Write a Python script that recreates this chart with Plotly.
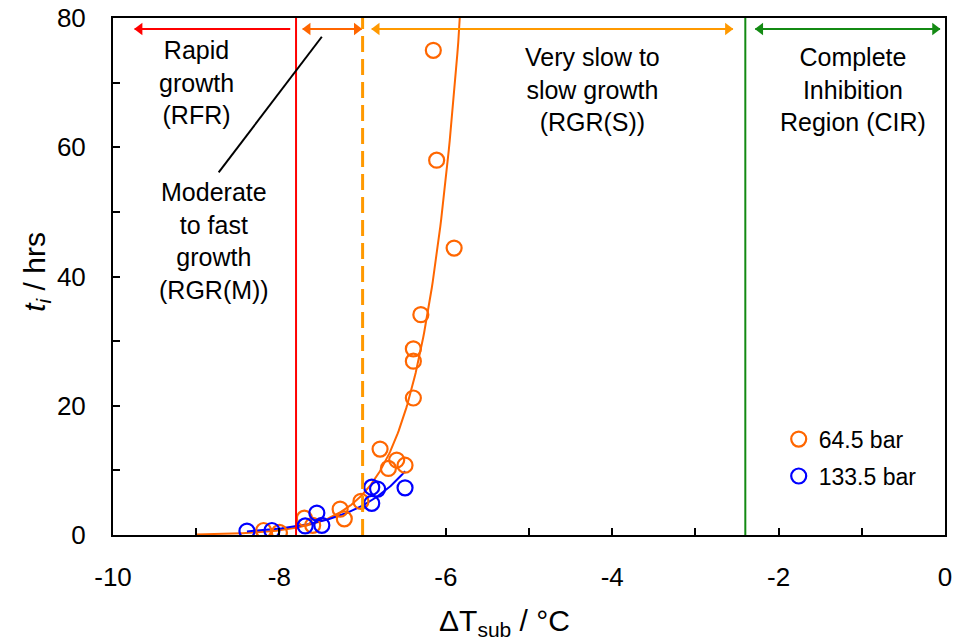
import numpy as np
import plotly.graph_objects as go

# ---- data ----
x_645 = [-8.19, -8.00, -7.70, -7.60, -7.27, -7.22, -7.02, -6.79, -6.69, -6.59, -6.49,
         -6.39, -6.39, -6.39, -6.30, -6.15, -6.11, -5.90]
y_645 = [0.7, 0.4, 2.6, 1.5, 4.0, 2.5, 5.2, 13.3, 10.3, 11.6, 10.8,
         21.2, 26.9, 28.8, 34.1, 75.0, 58.0, 44.4]

x_1335 = [-8.39, -8.09, -7.69, -7.55, -7.49, -6.89, -6.82, -6.89, -6.49]
y_1335 = [0.6, 0.7, 1.4, 3.4, 1.5, 7.4, 7.1, 4.9, 7.3]

series_names = ["64.5 bar", "133.5 bar"]

# trendline extents (Excel-style exponential trendlines)
trend_645_range = [-9.0, -5.6]
trend_1335_range = [min(x_1335), max(x_1335)]

# region boundaries
boundaries = [-7.8, -7.0, -2.4]

x_ticks = [-10, -8, -6, -4, -2, 0]
y_ticks = [0, 20, 40, 60, 80]

ORANGE = "#FF6600"
BLUE = "#0000FF"
RED = "#FF0000"
AMBER = "#FF9900"
GREEN = "#138A13"
FONT = "Liberation Sans, Arial, sans-serif"


def exp_fit(xs, ys):
    b, lna = np.polyfit(np.array(xs), np.log(np.array(ys)), 1)
    return np.exp(lna), b


a1, b1 = exp_fit(x_645, y_645)
a2, b2 = exp_fit(x_1335, y_1335)
xt1 = np.linspace(trend_645_range[0], trend_645_range[1], 300)
xt2 = np.linspace(trend_1335_range[0], trend_1335_range[1], 100)

fig = go.Figure()

fig.add_trace(go.Scatter(x=xt1, y=a1 * np.exp(b1 * xt1), mode="lines",
                         line=dict(color=ORANGE, width=2), showlegend=False,
                         hoverinfo="skip"))
fig.add_trace(go.Scatter(x=xt2, y=a2 * np.exp(b2 * xt2), mode="lines",
                         line=dict(color=BLUE, width=2), showlegend=False,
                         hoverinfo="skip"))
fig.add_trace(go.Scatter(x=x_645, y=y_645, mode="markers", name=series_names[0],
                         legendgroup="a",
                         marker=dict(symbol="circle-open", size=15, color=ORANGE,
                                     line=dict(width=2.2, color=ORANGE))))
fig.add_trace(go.Scatter(x=x_1335, y=y_1335, mode="markers", name=series_names[1],
                         legendgroup="b",
                         marker=dict(symbol="circle-open", size=15, color=BLUE,
                                     line=dict(width=2.2, color=BLUE))))

# vertical region boundaries
fig.add_shape(type="line", x0=boundaries[0], x1=boundaries[0], y0=0, y1=80,
              line=dict(color=RED, width=2))
fig.add_shape(type="line", x0=boundaries[1], x1=boundaries[1], y0=0, y1=80,
              line=dict(color=AMBER, width=3, dash="16px,7px"))
fig.add_shape(type="line", x0=boundaries[2], x1=boundaries[2], y0=0, y1=80,
              line=dict(color=GREEN, width=2))

# leader line
fig.add_shape(type="line", x0=-7.49, y0=77.1, x1=-8.73, y1=56.1,
              line=dict(color="black", width=2))

# arrows along the top: (left end, right end, colour, head at left, head at right)
arrow_y = 78.3
arrows = [
    (-9.74, -7.87, RED, True, False),
    (-7.72, -7.01, ORANGE, True, True),
    (-6.89, -2.55, AMBER, True, True),
    (-2.28, -0.06, GREEN, True, True),
]
head = 0.06  # half arrow-head length in data units
for xl, xr, col, hl, hr in arrows:
    fig.add_trace(go.Scatter(x=[xl, xr], y=[arrow_y, arrow_y], mode="lines",
                             line=dict(color=col, width=2), showlegend=False,
                             hoverinfo="skip", cliponaxis=False))
    hx, hs = [], []
    if hl:
        hx.append(xl + head)
        hs.append("triangle-left")
    if hr:
        hx.append(xr - head)
        hs.append("triangle-right")
    fig.add_trace(go.Scatter(x=hx, y=[arrow_y] * len(hx), mode="markers",
                             marker=dict(symbol=hs, size=11, color=col,
                                         line=dict(width=0)),
                             showlegend=False, hoverinfo="skip", cliponaxis=False))

labels = [
    (-9.00, 70.05, "Rapid<br>growth<br>(RFR)"),
    (-8.79, 45.5, "Moderate<br>to fast<br>growth<br>(RGR(M))"),
    (-4.24, 69.0, "Very slow to<br>slow growth<br>(RGR(S))"),
    (-1.11, 69.0, "Complete<br>Inhibition<br>Region (CIR)"),
]
for lx, ly, txt in labels:
    fig.add_annotation(x=lx, y=ly, xref="x", yref="y", text=txt, showarrow=False,
                       font=dict(family=FONT, size=25, color="black"),
                       align="center", bgcolor="rgba(0,0,0,0)")

# axis titles
fig.add_annotation(x=0.47, y=-0.17, xref="paper", yref="paper",
                   text="ΔT<sub>sub</sub> / °C", showarrow=False,
                   xanchor="center", yanchor="middle",
                   font=dict(family=FONT, size=30, color="black"))
fig.add_annotation(x=-0.092, y=0.51, xref="paper", yref="paper",
                   text="<i>t<sub>i</sub></i> / hrs", showarrow=False, textangle=-90,
                   xanchor="center", yanchor="middle",
                   font=dict(family=FONT, size=30, color="black"))

fig.update_layout(
    width=959, height=641,
    margin=dict(l=113, r=14, t=18, b=106, autoexpand=False),
    paper_bgcolor="white", plot_bgcolor="white",
    font=dict(family=FONT, color="black"),
    legend=dict(x=0.972, y=0.227, xanchor="right", yanchor="top",
                font=dict(family=FONT, size=23), bgcolor="rgba(0,0,0,0)",
                tracegroupgap=4, itemwidth=30),
)
fig.update_xaxes(range=[-10, 0], tickvals=x_ticks, ticktext=[str(v) for v in x_ticks],
                 ticks="inside", ticklen=7, tickwidth=2, tickcolor="black",
                 minor=dict(dtick=1, ticks="inside", ticklen=7, tickwidth=2,
                            tickcolor="black"),
                 showline=True, linecolor="black", linewidth=2, mirror=True,
                 showgrid=False, zeroline=False, automargin=False,
                 tickfont=dict(family=FONT, size=26), ticklabelstandoff=18)
fig.update_yaxes(range=[0, 80], tickvals=y_ticks, ticktext=[str(v) for v in y_ticks],
                 ticks="inside", ticklen=7, tickwidth=2, tickcolor="black",
                 minor=dict(dtick=10, ticks="inside", ticklen=7, tickwidth=2,
                            tickcolor="black"),
                 showline=True, linecolor="black", linewidth=2, mirror=True,
                 showgrid=False, zeroline=False, automargin=False,
                 tickfont=dict(family=FONT, size=26), ticklabelstandoff=20)

fig.write_html("out.html")
